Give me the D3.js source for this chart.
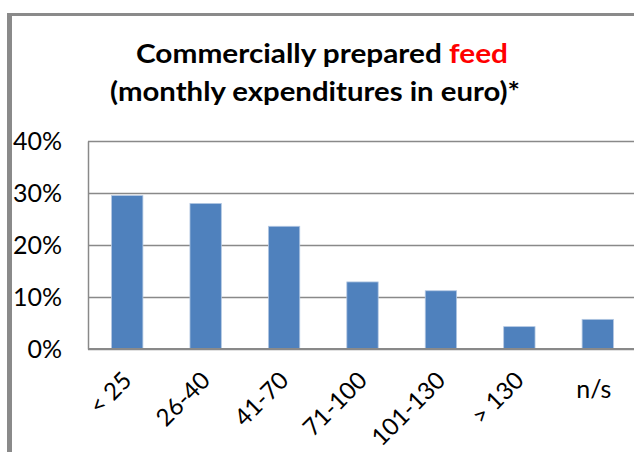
<!DOCTYPE html>
<html>
<head>
<meta charset="utf-8">
<script src="https://cdn.jsdelivr.net/npm/d3@7"></script>
<style>
  body { margin: 0; background: #fff; }
  svg { display: block; }
</style>
</head>
<body>
<div id="chart"></div>
<script>
// data
const categories = ["< 25", "26-40", "41-70", "71-100", "101-130", "> 130", "n/s"];
const shares = [0.295, 0.28, 0.236, 0.129, 0.112, 0.043, 0.057];
const yTicks = [0, 0.1, 0.2, 0.3, 0.4];

const W = 634, H = 452;
const plot = { left: 88, right: 637, top: 141, bottom: 349 };

const svg = d3.select("#chart").append("svg")
    .attr("width", W)
    .attr("height", H);

// outer frame (only top and left edges are visible)
svg.append("line")
    .attr("x1", 7).attr("x2", W).attr("y1", 14.5).attr("y2", 14.5)
    .attr("stroke", "#8a8a8a").attr("stroke-width", 3);
svg.append("line")
    .attr("x1", 9.5).attr("x2", 9.5).attr("y1", 13).attr("y2", H)
    .attr("stroke", "#8a8a8a").attr("stroke-width", 5);

// title
const title = svg.append("g")
    .attr("font-family", "Lato, 'Open Sans', sans-serif")
    .attr("font-weight", "bold")
    .attr("font-size", 27)
    .attr("text-anchor", "middle");

const t1 = title.append("text")
    .attr("x", 322).attr("y", 63)
    .attr("textLength", 372).attr("lengthAdjust", "spacingAndGlyphs");
t1.append("tspan").attr("fill", "#000").text("Commercially prepared ");
t1.append("tspan").attr("fill", "#ff0000").text("feed");

title.append("text")
    .attr("x", 315).attr("y", 101)
    .attr("textLength", 410).attr("lengthAdjust", "spacingAndGlyphs")
    .attr("fill", "#000")
    .text("(monthly expenditures in euro)*");

// scales
const x = d3.scaleBand()
    .domain(categories)
    .range([plot.left, plot.right])
    .paddingInner(0.6)
    .paddingOuter(0.3);

const y = d3.scaleLinear()
    .domain([0, 0.4])
    .range([plot.bottom, plot.top]);

// gridlines
svg.append("g")
    .attr("transform", `translate(${plot.left},0)`)
    .call(d3.axisLeft(y).tickValues(yTicks).tickSize(-(W - plot.left)).tickFormat(""))
    .call(g => g.select(".domain").remove())
    .call(g => g.selectAll(".tick line")
        .attr("stroke", "#898989")
        .attr("stroke-width", 1.5));

// bars
svg.append("g")
    .selectAll("rect")
    .data(shares)
    .join("rect")
    .attr("x", (d, i) => x(categories[i]))
    .attr("y", d => y(d))
    .attr("width", x.bandwidth())
    .attr("height", d => y(0) - y(d))
    .attr("fill", "#4f81bd")
    .attr("stroke", "#b3c8e3")
    .attr("stroke-width", 0.8);

// y axis line + labels
svg.append("g")
    .attr("transform", `translate(${plot.left},0)`)
    .call(d3.axisLeft(y).tickValues(yTicks).tickSize(0).tickPadding(26)
        .tickFormat(d3.format(".0%")))
    .call(g => g.select(".domain")
        .attr("stroke", "#898989")
        .attr("stroke-width", 1.5))
    .call(g => g.selectAll("text")
        .attr("font-family", "Lato, 'Open Sans', sans-serif")
        .attr("font-size", 25)
        .attr("fill", "#000"));

// x axis baseline
svg.append("line")
    .attr("x1", plot.left).attr("x2", W)
    .attr("y1", y(0)).attr("y2", y(0))
    .attr("stroke", "#898989").attr("stroke-width", 2);

// x labels: rotated, except the last one which fits flat
const xl = svg.append("g")
    .attr("font-family", "Lato, 'Open Sans', sans-serif")
    .attr("font-size", 24)
    .attr("fill", "#000");

categories.forEach((c, i) => {
    const cx = x(c) + x.bandwidth() / 2;
    if (c === "n/s") {
        xl.append("text")
            .attr("x", cx - 4).attr("y", 398)
            .attr("font-size", 25)
            .attr("text-anchor", "middle")
            .text(c);
    } else {
        xl.append("text")
            .attr("text-anchor", "end")
            .attr("transform", `translate(${cx + 6},382) rotate(-45)`)
            .text(c);
    }
});
</script>
</body>
</html>
